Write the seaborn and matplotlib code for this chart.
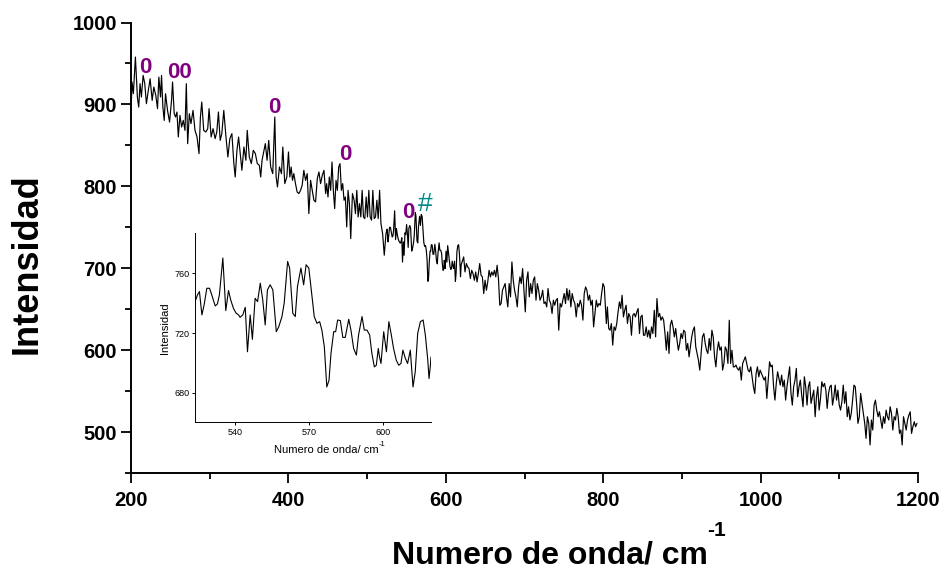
import matplotlib
matplotlib.use("Agg")
import matplotlib.pyplot as plt
import numpy as np
import pandas as pd
import seaborn as sns
from matplotlib.ticker import MultipleLocator

# Raman spectrum, 200-524 cm-1
wavenumber_low = [
    200.0, 201.3, 203.0, 205.6, 208.1, 209.8, 211.5, 213.2, 215.4, 217.5,
    219.6, 221.7, 224.3, 226.9, 229.0, 231.5, 233.7, 235.4, 237.5, 238.8,
    240.5, 242.2, 243.9, 246.4, 249.0, 251.5, 252.8, 254.9, 256.6, 258.4,
    260.1, 262.2, 264.3, 266.4, 268.6, 270.3, 272.0, 274.1, 276.2, 278.8,
    281.3, 283.9, 286.4, 288.2, 289.9, 292.4, 295.0, 297.5, 299.2, 301.8,
    304.3, 306.9, 309.0, 311.1, 313.3, 315.4, 317.9, 320.5, 323.1, 325.6,
    328.2, 330.7, 332.4, 334.6, 336.7, 339.2, 340.9, 343.5, 346.0, 347.7,
    350.3, 352.9, 355.4, 358.0, 360.5, 363.1, 364.8, 366.5, 369.0, 370.7,
    372.9, 375.0, 377.5, 380.1, 382.7, 384.4, 386.1, 388.6, 391.2, 392.9,
    395.4, 398.0,
    400.1, 401.8, 403.5, 405.2, 406.9, 409.0, 411.1, 413.3, 415.4, 417.5,
    419.6, 421.8, 423.9, 426.0, 428.2, 430.3, 432.4, 434.5, 436.7, 438.8,
    440.9, 443.1, 445.2, 447.3, 448.6, 450.3, 452.0, 453.7, 455.4, 457.1,
    458.8, 460.5, 462.2, 463.9, 465.6, 467.3, 469.0, 470.7, 472.4, 474.1,
    475.8, 477.5, 479.2, 481.4, 483.5, 485.2, 486.9, 488.6, 490.3, 492.0,
    493.7, 495.4, 497.1, 498.8, 500.5, 502.2, 503.9, 505.6, 507.3, 509.0,
    510.7, 512.4, 514.1, 515.9, 517.6, 519.7, 521.8,
]
intensity_low = [
    888.7, 927.3, 913.1, 957.8, 909.0, 896.8, 925.3, 909.0, 935.4, 925.3,
    900.9, 915.1, 931.3, 904.9, 921.2, 911.0, 894.8, 933.4, 909.0, 935.4,
    896.8, 880.5, 913.1, 892.7, 878.5, 904.9, 927.3, 888.7, 884.6, 890.7,
    860.2, 886.6, 872.4, 880.5, 868.3, 925.3, 852.1, 888.7, 876.5, 892.7,
    868.3, 860.2, 839.9, 884.6, 902.9, 868.3, 866.3, 870.4, 894.8, 860.2,
    870.4, 858.2, 866.3, 890.7, 856.1, 864.3, 892.7, 862.2, 835.8, 858.2,
    864.3, 827.7, 811.4, 843.9, 860.2, 835.8, 819.6, 848.0, 831.8, 868.3,
    835.8, 827.7, 843.9, 839.9, 827.7, 825.7, 811.4, 831.8, 843.9, 852.1,
    831.8, 856.1, 823.6, 815.5, 884.6, 811.4, 799.2, 823.6, 815.5, 848.0,
    803.3, 811.4,
    841.9, 811.4, 823.6, 807.3, 815.5, 803.3, 793.1, 791.1, 795.1, 801.2,
    819.5, 807.3, 815.5, 766.7, 807.3, 795.1, 783.0, 780.9, 809.4, 817.5,
    803.3, 813.5, 819.5, 791.1, 803.3, 787.0, 811.4, 795.1, 829.7, 795.1,
    772.8, 807.3, 795.1, 823.6, 827.7, 795.1, 803.3, 783.0, 787.0, 750.4,
    795.1, 778.9, 736.2, 791.1, 783.0, 766.7, 795.1, 762.6, 778.9, 762.6,
    795.1, 762.6, 760.6, 787.0, 762.6, 795.1, 762.6, 758.6, 795.1, 760.6,
    762.6, 783.0, 760.6, 795.1, 754.5, 742.3, 715.9,
]

# 524-620 cm-1, the stretch enlarged in the inset
wavenumber_zoom = [
    524.0, 524.7, 525.5, 526.5, 527.4, 528.5, 529.6, 530.5, 531.9, 532.8,
    533.6, 535.0, 536.2, 537.3, 538.2, 539.3, 540.4, 541.4, 542.0, 543.1,
    544.1, 545.0, 546.1, 547.0, 548.1, 549.1, 550.2, 551.2, 552.2, 553.1,
    554.2, 555.3, 556.7, 557.7, 559.0, 559.9, 561.3, 562.1, 563.4, 564.4,
    565.3, 566.7, 567.8, 568.8, 569.9, 571.2, 572.1, 573.2, 574.3, 575.2,
    576.2, 577.2, 578.1, 578.9, 580.0, 580.8, 581.6, 582.7, 583.7, 584.7,
    586.1, 587.0, 588.1, 589.2, 590.1, 591.5, 592.4, 593.5, 594.6, 595.5,
    596.5, 597.3, 598.1, 598.6, 599.2, 600.3, 601.4, 602.4, 603.4, 604.3,
    605.4, 606.4, 607.3, 608.1, 609.1, 610.0, 611.1, 612.2, 613.1, 614.1,
    615.2, 616.3, 617.2, 618.2, 618.7, 619.2, 619.5,
]
intensity_zoom = [
    742.1, 745.5, 747.7, 732.1, 738.8, 749.9, 749.9, 745.5, 738.1, 739.4,
    745.5, 770.1, 735.0, 748.4, 742.1, 736.5, 733.2, 732.1, 730.5, 732.1,
    737.2, 707.5, 732.1, 715.8, 743.2, 741.0, 753.3, 742.1, 725.4, 748.8,
    752.2, 748.8, 720.9, 724.2, 731.0, 739.9, 767.8, 763.4, 733.2, 731.0,
    751.1, 763.4, 752.2, 765.6, 763.4, 744.4, 731.0, 726.5, 727.6, 722.0,
    710.8, 684.0, 688.5, 706.4, 720.9, 720.9, 728.7, 728.3, 717.1, 717.1,
    729.2, 722.0, 709.7, 705.3, 718.7, 731.0, 722.0, 722.0, 718.7, 706.4,
    697.4, 698.5, 709.7, 704.1, 699.7, 720.9, 707.5, 727.6, 718.7, 709.7,
    701.9, 698.5, 699.7, 708.6, 703.0, 699.7, 708.6, 684.0, 694.1, 719.8,
    727.6, 728.7, 718.7, 701.9, 689.6, 697.4, 704.1,
]

# 620-1200 cm-1
wavenumber_high = [
    622.7, 624.4, 626.1, 627.8, 629.5, 631.2, 632.9, 634.6, 636.3, 638.0,
    639.7, 641.4, 643.1, 644.8, 646.5, 648.2, 649.9, 651.6, 653.3, 655.0,
    656.7, 658.4, 660.1, 661.8, 663.5, 665.2, 666.9, 668.6, 670.3, 672.0,
    673.7, 675.4, 677.1, 678.8, 680.5, 682.2, 684.0, 685.7, 687.4, 689.1,
    690.8, 692.5, 694.2, 695.9, 697.6, 699.3, 701.0, 702.7, 704.4, 706.1,
    707.8, 709.5, 711.2, 712.9, 714.6, 716.3, 718.0, 719.7, 721.4, 723.1,
    724.8, 726.5, 728.2, 729.9, 731.6, 733.3, 735.0, 736.7, 738.4, 740.1,
    741.8, 743.5, 745.3, 747.0, 748.7, 750.4, 752.1, 753.8, 755.5, 757.2,
    758.9, 760.6, 762.3, 764.0, 765.7, 767.4, 769.1, 770.8, 772.5, 774.2,
    775.9, 777.6, 779.3, 781.0, 782.7, 784.4, 786.1, 787.8, 789.5, 791.2,
    792.9, 794.6, 796.3, 798.0, 799.7, 801.4,
    804.0, 805.3,
    807.0, 808.7, 810.4, 812.1, 813.8, 815.5, 817.2, 818.9, 820.6, 822.3,
    824.0, 825.7, 827.4, 829.1, 830.8, 832.5, 834.2, 835.9, 837.6, 839.3,
    841.0, 842.7, 844.4, 846.1, 847.8, 849.5, 851.2, 852.9, 854.6, 856.3,
    858.0, 859.7, 861.4, 863.1, 864.9, 866.6, 868.3, 870.0, 871.7, 873.4,
    875.1, 876.8, 878.5, 880.2, 881.9, 883.6, 885.3, 887.0, 888.7, 890.4,
    892.1, 893.8, 895.5, 897.2, 898.9, 900.6, 902.3, 904.0, 905.7, 907.4,
    909.1, 910.8, 912.5, 914.2, 915.9, 917.6, 919.3, 921.0, 922.7, 924.4,
    926.1, 927.9, 929.6, 931.3, 933.0, 934.7, 936.4, 938.1, 939.8, 941.5,
    943.2, 944.9, 946.6, 948.3, 950.0, 951.7, 953.4, 955.1, 956.8, 958.5,
    960.2, 961.9, 963.6, 965.3, 967.0, 968.7, 970.4, 972.1, 973.8, 975.5,
    977.2, 978.9, 980.6, 982.3, 984.1, 985.8, 987.5, 989.2, 990.9, 992.6,
    994.3, 996.0, 997.7, 999.4, 1001.1, 1002.8, 1004.5, 1006.2, 1007.9,
    1011.4, 1013.1, 1014.8, 1016.5, 1018.2, 1019.9, 1021.6, 1023.3, 1025.0, 1026.7,
    1028.4, 1030.1, 1031.8, 1033.5, 1035.2, 1036.9, 1038.6, 1040.3, 1042.0, 1043.7,
    1045.4, 1047.1, 1048.8, 1050.5, 1052.2, 1053.9, 1055.6, 1057.3, 1059.0, 1060.7,
    1062.4, 1064.1, 1065.8, 1067.5, 1069.3, 1071.0, 1072.7, 1074.4, 1076.1, 1077.8,
    1079.5, 1081.2, 1082.9, 1084.6, 1086.3, 1088.0, 1089.7, 1091.4, 1093.1, 1094.8,
    1096.5, 1098.2, 1099.9, 1101.6, 1103.3, 1105.0, 1106.7, 1108.4, 1110.1, 1111.8,
    1113.5, 1115.2, 1116.9, 1118.6, 1120.3, 1122.0, 1123.7, 1125.4, 1127.1, 1128.8,
    1130.6, 1132.3, 1134.0, 1135.7, 1137.4, 1139.1, 1140.8, 1142.5, 1144.2, 1145.9,
    1147.6, 1149.3, 1151.0, 1152.7, 1154.4, 1156.1, 1157.8, 1159.5, 1161.2, 1162.9,
    1164.6, 1166.3, 1168.0, 1169.7, 1171.4, 1173.1, 1174.8, 1176.5, 1178.2, 1179.9,
    1181.6, 1183.3, 1185.0, 1186.7, 1188.4, 1190.1, 1191.8, 1193.5, 1195.3, 1196.9,
    1198.7,
]
intensity_high = [
    713.8, 695.5, 705.7, 701.6, 699.6, 687.4, 697.5, 693.5, 685.3, 695.5,
    683.3, 693.5, 705.7, 691.4, 689.4, 669.1, 685.3, 673.1, 683.3, 697.5,
    689.4, 695.5, 691.4, 697.5, 689.4, 703.6, 687.4, 654.8, 656.9, 673.1,
    677.2, 681.3, 665.0, 652.8, 681.3, 665.0, 707.7, 685.3, 673.1, 665.0,
    652.8, 677.2, 689.4, 681.3, 699.6, 673.1, 646.7, 685.3, 695.5, 665.0,
    681.3, 669.1, 685.3, 689.4, 661.0, 681.3, 673.1, 661.0, 665.0, 673.1,
    656.9, 658.9, 652.8, 675.2, 661.0, 656.9, 644.7, 661.0, 654.8, 661.0,
    663.0, 624.4, 656.9, 652.8, 661.0, 669.1, 656.9, 675.2, 661.0, 673.1,
    652.8, 669.1, 661.0, 656.9, 640.6, 656.9, 652.8, 661.0, 654.8, 636.6,
    669.1, 677.2, 673.1, 661.0, 667.1, 654.8, 661.0, 628.4, 644.7, 661.0,
    652.8, 656.9, 654.8, 669.1, 681.3, 677.2,
    632.5, 652.8,
    626.4, 624.3, 632.5, 606.1, 628.4, 624.3, 632.5, 646.7, 658.9, 650.8,
    667.0, 640.6, 648.7, 654.8, 632.5, 644.7, 640.6, 618.2, 642.6, 644.7,
    640.6, 646.7, 650.8, 620.3, 640.6, 642.6, 618.2, 618.2, 628.4, 616.2,
    624.3, 614.2, 628.4, 620.3, 648.7, 616.2, 663.0, 640.6, 644.7, 636.5,
    640.6, 636.5, 620.3, 599.9, 622.3, 595.9, 630.4, 636.5, 628.4, 616.2,
    626.4, 612.1, 599.9, 608.1, 620.3, 614.2, 624.3, 622.3, 599.9, 608.1,
    591.8, 604.0, 616.2, 624.3, 628.4, 604.0, 595.9, 587.8, 575.6, 595.9,
    616.2, 620.3, 608.1, 599.9, 595.9, 614.2, 599.9, 624.3, 616.2, 591.8,
    579.6, 599.9, 610.1, 599.9, 604.0, 575.6, 583.7, 604.0, 599.9, 583.7,
    636.5, 583.7, 599.9, 579.6, 579.6, 581.7, 577.6, 575.6, 579.6, 563.4,
    583.7, 587.8, 591.8, 583.7, 575.6, 573.5, 579.6, 567.4, 555.2, 547.1,
    571.5, 579.6, 567.4, 575.6, 571.5, 567.4, 563.4, 567.4, 541.0,
    585.8, 579.7, 581.7, 555.3, 539.0, 559.4, 573.6, 565.5, 557.3, 569.5,
    555.3, 563.4, 539.0, 555.3, 567.5, 579.7, 547.2, 532.9, 555.3, 563.4,
    577.7, 543.1, 555.3, 563.4, 545.1, 530.9, 567.5, 555.3, 532.9, 555.3,
    561.4, 535.0, 543.1, 551.2, 518.7, 543.1, 555.3, 526.8, 541.1, 561.4,
    555.3, 559.4, 551.2, 528.9, 547.2, 555.3, 557.3, 532.9, 543.1, 557.3,
    539.0, 551.2, 532.9, 526.8, 537.0, 557.3, 535.0, 549.2, 518.7, 530.9,
    514.7, 522.8, 539.0, 557.3, 555.3, 535.0, 510.6, 518.7, 547.2, 535.0,
    522.8, 510.6, 492.3, 518.7, 510.6, 484.2, 514.7, 502.5, 532.9, 539.0,
    526.8, 518.7, 524.8, 514.7, 504.5, 518.7, 510.6, 526.8, 518.7, 514.7,
    530.9, 522.8, 502.5, 518.7, 514.7, 528.9, 518.7, 498.4, 502.5, 484.2,
    518.7, 510.6, 502.5, 514.7, 520.7, 524.8, 498.4, 506.5, 512.6, 506.5,
    510.6,
]

# Band markers written above the peaks
peak_marks = ["0", "00", "0", "0", "0", "#"]
peak_mark_x = [218.5, 262.2, 382.4, 471.8, 552.5, 574.4]
peak_mark_y = [944.5, 938.4, 895.7, 838.8, 767.7, 778.0]
peak_mark_colors = ["#800080", "#800080", "#800080", "#800080", "#800080", "#008B8B"]
peak_mark_weights = ["bold", "bold", "bold", "bold", "bold", "normal"]
peak_mark_sizes = [16, 16, 16, 16, 16, 19]

main_xticks = [200, 400, 600, 800, 1000, 1200]
main_yticks = [500, 600, 700, 800, 900, 1000]
inset_xticks = [540, 570, 600]
inset_yticks = [680, 720, 760]

spectrum = pd.DataFrame({
    "wavenumber": wavenumber_low + wavenumber_zoom + wavenumber_high,
    "intensity": intensity_low + intensity_zoom + intensity_high,
})
detail = pd.DataFrame({"wavenumber": wavenumber_zoom, "intensity": intensity_zoom})

sns.set_style("ticks")
plt.rcParams["font.family"] = ["Liberation Sans", "DejaVu Sans"]
plt.rcParams["text.color"] = "black"
plt.rcParams["axes.labelcolor"] = "black"
plt.rcParams["xtick.color"] = "black"
plt.rcParams["ytick.color"] = "black"

W, H = 946, 571
fig = plt.figure(figsize=(W / 100, H / 100), dpi=100)
fig.patch.set_facecolor("white")

# main spectrum
ax = fig.add_axes([131 / W, 1 - 473 / H, 787 / W, 450.5 / H])
sns.lineplot(data=spectrum, x="wavenumber", y="intensity", ax=ax,
             color="black", linewidth=0.85, estimator=None, sort=False)
ax.set_xlim(200, 1200)
ax.set_ylim(450, 1000)
ax.set_xticks(main_xticks)
ax.set_yticks(main_yticks)
ax.xaxis.set_minor_locator(MultipleLocator(100))
ax.yaxis.set_minor_locator(MultipleLocator(50))
ax.tick_params(which="major", direction="out", length=7, width=1.3,
               labelsize=14.5, colors="black")
ax.tick_params(axis="x", which="major", pad=6)
ax.tick_params(axis="y", which="major", pad=3)
ax.tick_params(which="minor", direction="out", length=4, width=1.3, colors="black")
for lab in ax.get_xticklabels() + ax.get_yticklabels():
    lab.set_fontweight("bold")
ax.set_xlabel("")
ax.set_ylabel("")
sns.despine(ax=ax)
for side in ("left", "bottom"):
    ax.spines[side].set_linewidth(1.4)
    ax.spines[side].set_color("black")

for mark, mx, my, mc, mw, ms in zip(peak_marks, peak_mark_x, peak_mark_y,
                                    peak_mark_colors, peak_mark_weights,
                                    peak_mark_sizes):
    ax.text(mx, my, mark, color=mc, fontsize=ms, fontweight=mw,
            ha="center", va="center")

fig.text(27 / W, 1 - 264 / H, "Intensidad", rotation=90, fontsize=26,
         fontweight="bold", ha="center", va="center", color="black")

# axis title with a raised "-1"
title_main = fig.text(392 / W, 1 - 563 / H, "Numero de onda/ cm", fontsize=23,
                      fontweight="bold", ha="left", va="baseline", color="black")
fig.canvas.draw()
bb = title_main.get_window_extent()
fig.text(bb.x1 / W - 1 / W, 1 - 536 / H, "-1", fontsize=15,
         fontweight="bold", ha="left", va="baseline", color="black")

# inset with the 524-620 cm-1 detail
axin = fig.add_axes([195 / W, 1 - 422 / H, 236 / W, 189 / H])
axin.patch.set_visible(False)
sns.lineplot(data=detail, x="wavenumber", y="intensity", ax=axin,
             color="black", linewidth=0.8, estimator=None, sort=False)
axin.set_xlim(523.7, 619.5)
axin.set_ylim(660.6, 786.8)
axin.set_xticks(inset_xticks)
axin.set_yticks(inset_yticks)
axin.tick_params(direction="out", length=2.5, width=0.7, labelsize=6.5, pad=1.5,
                 colors="black")
axin.set_xlabel("")
axin.set_ylabel("")
sns.despine(ax=axin)
for side in ("left", "bottom"):
    axin.spines[side].set_linewidth(0.7)
    axin.spines[side].set_color("black")

fig.text(165 / W, 1 - 328 / H, "Intensidad", rotation=90, fontsize=8,
         ha="center", va="center", color="black")
sub_title = fig.text(274 / W, 1 - 453 / H, "Numero de onda/ cm", fontsize=8,
                     ha="left", va="baseline", color="black")
fig.canvas.draw()
sb = sub_title.get_window_extent()
fig.text(sb.x1 / W, 1 - 446 / H, "-1", fontsize=5.5, ha="left",
         va="baseline", color="black")

fig.savefig("out.png", dpi=100, facecolor="white")
